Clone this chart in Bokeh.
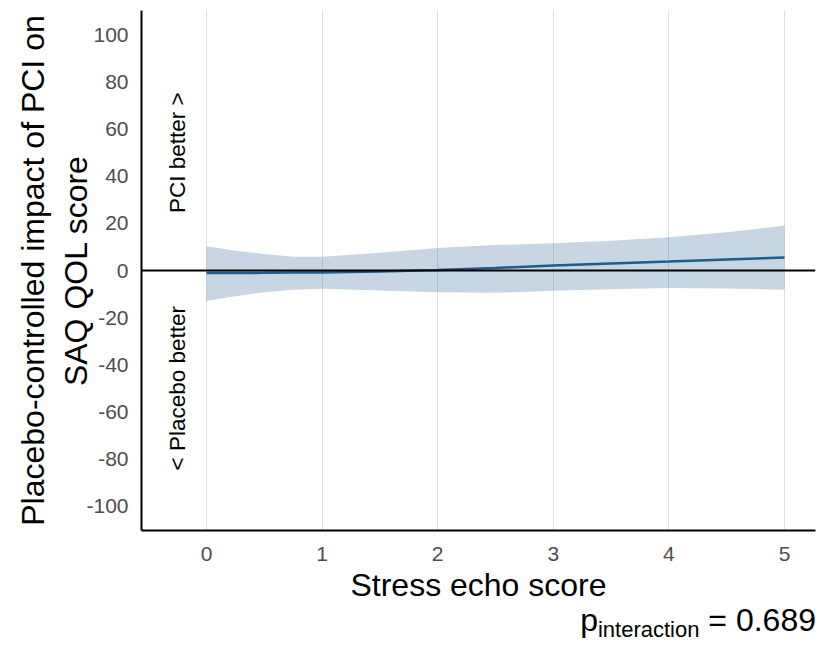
from bokeh.plotting import figure
from bokeh.models import Range1d, FixedTicker, Span, Label, ColumnDataSource, Div
from bokeh.layouts import column
from bokeh.embed import file_html
from bokeh.resources import INLINE

# ---- data ----
stress_score = [0, 0.25, 0.5, 0.75, 1, 1.5, 2, 2.5, 3, 3.5, 4, 4.5, 5]
effect = [-1.1, -1.05, -1.0, -0.9, -0.8, -0.4, 0.2, 1.1, 2.1, 3.0, 3.8, 4.7, 5.5]
ci_upper = [10.3, 8.4, 7.0, 5.8, 5.8, 7.5, 9.6, 10.8, 11.6, 12.6, 14.1, 16.2, 19.1]
ci_lower = [-13.0, -10.9, -9.2, -8.2, -7.8, -8.5, -9.2, -9.5, -8.6, -8.0, -7.4, -7.6, -8.2]

x_ticks = [0, 1, 2, 3, 4, 5]
y_ticks = [-100, -80, -60, -40, -20, 0, 20, 40, 60, 80, 100]
y_tick_labels = {t: str(t) for t in y_ticks}   # plain hyphen minus as in the reference

p_label = "p"
p_sub = "interaction"
p_value = "= 0.689"

FONT = "Liberation Sans"
LINE_COLOR = "#1f5b8b"

src = ColumnDataSource(dict(x=stress_score, y=effect, lo=ci_lower, hi=ci_upper))

p = figure(width=816, height=605, output_backend="svg", toolbar_location=None,
           x_range=Range1d(-0.562, 5.268), y_range=Range1d(-110.4, 110.4),
           min_border_left=141, min_border_right=1, min_border_top=10,
           min_border_bottom=75)
p.outline_line_color = None
p.background_fill_color = "white"

# band and line
p.varea(x="x", y1="lo", y2="hi", source=src, fill_color=LINE_COLOR, fill_alpha=0.25)
zero = Span(location=0, dimension="width", line_color="black", line_width=2)
p.add_layout(zero)
p.line(x="x", y="y", source=src, line_color=LINE_COLOR, line_width=2.5)

# grid
p.ygrid.grid_line_color = None
p.xgrid.grid_line_color = "#dedede"
p.xgrid.grid_line_width = 1

# axes
p.xaxis.ticker = FixedTicker(ticks=x_ticks)
p.yaxis.ticker = FixedTicker(ticks=y_ticks)
p.yaxis.major_label_overrides = y_tick_labels
for ax in (p.xaxis, p.yaxis):
    ax.axis_line_color = "black"
    ax.axis_line_width = 2
    ax.major_tick_line_color = None
    ax.minor_tick_line_color = None
    ax.major_label_text_font = FONT
    ax.major_label_text_font_size = "21px"
    ax.major_label_text_color = "#4d4d4d"
    ax.axis_label_text_font = FONT
    ax.axis_label_text_font_size = "32px"
    ax.axis_label_text_font_style = "normal"
    ax.axis_label_text_color = "black"
p.xaxis.major_label_standoff = 10
p.yaxis.major_label_standoff = 7
p.xaxis.axis_label = "Stress echo score"
p.xaxis.axis_label_standoff = 3
p.yaxis.axis_label = "Placebo-controlled impact of PCI on\nSAQ QOL score"
p.yaxis.axis_label_standoff = -11

# direction annotations
for txt, yv in (("PCI better >", 50), ("< Placebo better", -50)):
    p.add_layout(Label(x=-0.25, y=yv, text=txt, angle=90, angle_units="deg",
                       text_align="center", text_baseline="middle",
                       text_font=FONT, text_font_size="22.5px", text_color="black"))

# p-value annotation (below the plot)
div = Div(
    text=(f'{p_label}<span style="font-size:22px; position:relative; top:6px;">'
          f'{p_sub}</span> {p_value}'),
    width=811, height=40,
    styles={"font-family": FONT, "font-size": "32px", "color": "black",
            "text-align": "right", "width": "811px", "line-height": "20px",
            "white-space": "nowrap"},
)

layout = column(p, div, spacing=0)
open("out.html", "w").write(file_html(layout, INLINE))
